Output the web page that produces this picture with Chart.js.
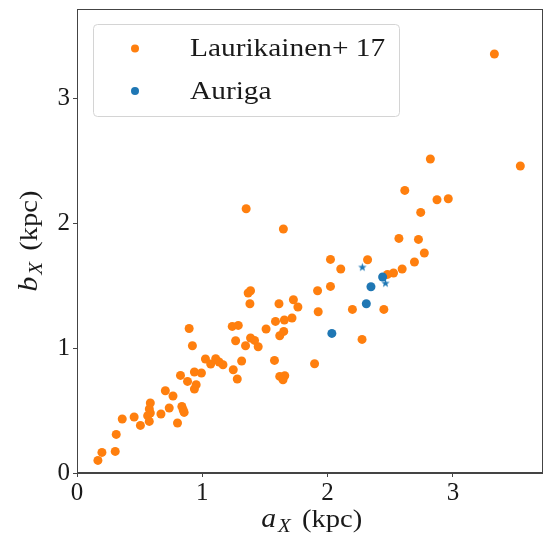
<!DOCTYPE html>
<html>
<head>
<meta charset="utf-8">
<script src="https://cdn.jsdelivr.net/npm/chart.js@4/dist/chart.umd.min.js"></script>
<style>
html,body{margin:0;padding:0;background:#fff;}
#wrap{width:547px;height:541px;position:relative;}
</style>
</head>
<body>
<div id="wrap"><canvas id="c" width="547" height="541"></canvas></div>
<script>
// ---- data ----
const lauriLabel = 'Laurikainen+ 17';
const lauriX = [3.331,2.820,3.538,2.616,2.873,2.963,2.743,2.569,2.725,2.772,2.693,2.023,2.319,2.105,2.595,2.526,2.478,2.023,1.920,1.727,1.763,1.716,1.925,2.198,2.449,2.275,1.896,1.350,1.647,1.385,1.366,1.380,1.612,1.655,1.584,1.509,1.239,1.287,0.895,1.618,1.650,0.921,1.266,1.345,1.385,1.417,1.446,1.025,1.067,1.107,1.134,1.165,1.314,1.247,1.279,1.576,1.618,1.658,1.644,0.826,0.937,0.993,0.882,0.951,0.937,0.705,0.766,0.585,0.736,0.837,0.847,0.855,0.577,0.585,0.564,0.670,0.456,0.361,0.506,0.577,0.802,0.313,0.305,0.199,0.167];
const lauriY = [3.352,2.512,2.456,2.261,2.186,2.194,2.085,1.877,1.869,1.760,1.688,1.709,1.706,1.632,1.632,1.600,1.589,1.493,1.458,1.386,1.328,1.240,1.290,1.309,1.309,1.069,0.874,2.114,1.952,1.458,1.440,1.354,1.354,1.224,1.213,1.152,1.173,1.181,1.156,1.098,1.133,1.018,1.058,1.018,1.080,1.061,1.010,0.912,0.872,0.914,0.888,0.866,0.896,0.826,0.752,0.901,0.773,0.778,0.746,0.781,0.808,0.800,0.733,0.706,0.672,0.658,0.616,0.560,0.520,0.533,0.506,0.485,0.512,0.480,0.458,0.472,0.448,0.432,0.381,0.413,0.400,0.309,0.173,0.165,0.101];
const aurigaLabel = 'Auriga';
const aurigaX = [2.439,2.346,2.309,2.034];
const aurigaY = [1.568,1.490,1.354,1.117];
const aurigaStarX = [2.277,2.462];
const aurigaStarY = [1.648,1.520];
const xTicks = [0,1,2,3];
const yTicks = [0,1,2,3];
const xLimits = [0, 3.715];
const yLimits = [0, 3.712];

const ORANGE = '#ff7f0e';
const BLUE = '#1f77b4';
const TEXT = '#1a1a1a';
const AXIS = '#444444';
const SERIF = '"Liberation Serif", "DejaVu Serif", serif';

function zip(xs, ys){ return xs.map((x,i)=>({x:x, y:ys[i]})); }

// filled 5-point star marker (matplotlib '*')
function makeStar(r, color){
  const s = Math.ceil(r*2+2);
  const cv = document.createElement('canvas');
  cv.width = s; cv.height = s;
  const g = cv.getContext('2d');
  const cx = s/2, cy = s/2 + r*0.1;
  g.beginPath();
  for (let i=0;i<10;i++){
    const rr = (i%2===0) ? r : r*0.4;
    const a = -Math.PI/2 + i*Math.PI/5;
    const px = cx + rr*Math.cos(a), py = cy + rr*Math.sin(a);
    if (i===0) g.moveTo(px,py); else g.lineTo(px,py);
  }
  g.closePath();
  g.fillStyle = color;
  g.fill();
  return cv;
}
const starImg = makeStar(4.5, BLUE);

// draw text stretched horizontally (Computer Modern is wider than Times)
function wideText(ctx, txt, x, y, sx){
  ctx.save();
  ctx.translate(x, y);
  ctx.scale(sx, 1);
  ctx.fillText(txt, 0, 0);
  ctx.restore();
  return ctx.measureText(txt).width * sx;
}

const framePlugin = {
  id: 'frameAndText',
  afterDraw(chart){
    const ctx = chart.ctx;
    const a = chart.chartArea;
    ctx.save();
    // full box frame
    ctx.strokeStyle = AXIS;
    ctx.lineWidth = 1;
    ctx.strokeRect(Math.round(a.left)+0.5, Math.round(a.top)+0.5, Math.round(a.right-a.left)-1, Math.round(a.bottom-a.top)-1);

    // legend box
    const lx = 93.5, ly = 24.5, lw = 306, lh = 92, rad = 4;
    ctx.beginPath();
    ctx.moveTo(lx+rad, ly);
    ctx.lineTo(lx+lw-rad, ly); ctx.arcTo(lx+lw, ly, lx+lw, ly+rad, rad);
    ctx.lineTo(lx+lw, ly+lh-rad); ctx.arcTo(lx+lw, ly+lh, lx+lw-rad, ly+lh, rad);
    ctx.lineTo(lx+rad, ly+lh); ctx.arcTo(lx, ly+lh, lx, ly+lh-rad, rad);
    ctx.lineTo(lx, ly+rad); ctx.arcTo(lx, ly, lx+rad, ly, rad);
    ctx.closePath();
    ctx.fillStyle = 'rgba(255,255,255,0.8)';
    ctx.fill();
    ctx.strokeStyle = '#d4d4d4';
    ctx.stroke();

    const items = [chart.data.datasets[0], chart.data.datasets[1]];
    const ys = [48.5, 91];
    ctx.font = '26px ' + SERIF;
    ctx.textBaseline = 'middle';
    ctx.textAlign = 'left';
    items.forEach((ds, i) => {
      ctx.beginPath();
      ctx.arc(135, ys[i], 4, 0, Math.PI*2);
      ctx.fillStyle = ds.backgroundColor;
      ctx.fill();
      ctx.fillStyle = TEXT;
      wideText(ctx, ds.label, 190, ys[i] + 1, 1.13);
    });

    // axis titles with subscripts
    function drawTitle(main, sub, rest, cx, baseY){
      const sx = 1.1;
      const fMain = 'italic 27px ' + SERIF;
      const fSub = 'italic 19px ' + SERIF;
      const fRest = '26px ' + SERIF;
      ctx.font = fMain; const w1 = ctx.measureText(main).width*sx;
      ctx.font = fSub; const w2 = ctx.measureText(sub).width*sx;
      ctx.font = fRest; const w3 = ctx.measureText(rest).width*sx;
      const gap1 = 2, gap2 = 4;
      let x = cx - (w1+w2+w3+gap1+gap2)/2;
      ctx.textAlign = 'left';
      ctx.textBaseline = 'alphabetic';
      ctx.fillStyle = TEXT;
      ctx.font = fMain; wideText(ctx, main, x, baseY, sx); x += w1 + gap1;
      ctx.font = fSub; wideText(ctx, sub, x, baseY + 5, sx); x += w2 + gap2;
      ctx.font = fRest; wideText(ctx, rest, x, baseY, sx);
    }
    drawTitle('a', 'X', ' (kpc)', (a.left + a.right)/2 + 2, 527);
    ctx.save();
    ctx.translate(37, (a.top + a.bottom)/2);
    ctx.rotate(-Math.PI/2);
    drawTitle('b', 'X', ' (kpc)', 0, 0);
    ctx.restore();
    ctx.restore();
  }
};

new Chart(document.getElementById('c'), {
  type: 'scatter',
  data: {
    datasets: [
      { label: lauriLabel, data: zip(lauriX, lauriY), backgroundColor: ORANGE, borderWidth: 0, pointRadius: 4.5, order: 3 },
      { label: aurigaLabel, data: zip(aurigaX, aurigaY), backgroundColor: BLUE, borderWidth: 0, pointRadius: 4.5, order: 1 },
      { label: aurigaLabel + ' *', data: zip(aurigaStarX, aurigaStarY), backgroundColor: BLUE, pointStyle: starImg, pointRadius: 4.5, borderWidth: 0, order: 0 }
    ]
  },
  options: {
    responsive: false,
    animation: false,
    events: [],
    layout: { padding: { top: 9, right: 2, left: 0, bottom: 0 } },
    plugins: { legend: { display: false }, tooltip: { enabled: false } },
    scales: {
      x: {
        type: 'linear', min: xLimits[0], max: xLimits[1],
        afterBuildTicks: (s) => { s.ticks = xTicks.map(v => ({value: v})); },
        afterFit: (s) => { s.height = 68; s.paddingLeft = 0; s.paddingRight = 0; },
        ticks: { color: TEXT, font: { family: SERIF, size: 25 }, padding: 1, maxRotation: 0, includeBounds: false, callback: (v) => String(v) },
        grid: { drawOnChartArea: false, drawTicks: true, tickLength: 4, color: AXIS, tickWidth: 1 },
        border: { color: AXIS, width: 1 },
        title: { display: false, text: 'a_X (kpc)' }
      },
      y: {
        type: 'linear', min: yLimits[0], max: yLimits[1],
        afterBuildTicks: (s) => { s.ticks = yTicks.map(v => ({value: v})); },
        afterFit: (s) => { s.width = 77; s.paddingTop = 0; s.paddingBottom = 0; },
        ticks: { color: TEXT, font: { family: SERIF, size: 25 }, padding: 3, includeBounds: false, callback: (v) => String(v) },
        grid: { drawOnChartArea: false, drawTicks: true, tickLength: 4, color: AXIS, tickWidth: 1 },
        border: { color: AXIS, width: 1 },
        title: { display: false, text: 'b_X (kpc)' }
      }
    }
  },
  plugins: [framePlugin]
});
</script>
</body>
</html>
